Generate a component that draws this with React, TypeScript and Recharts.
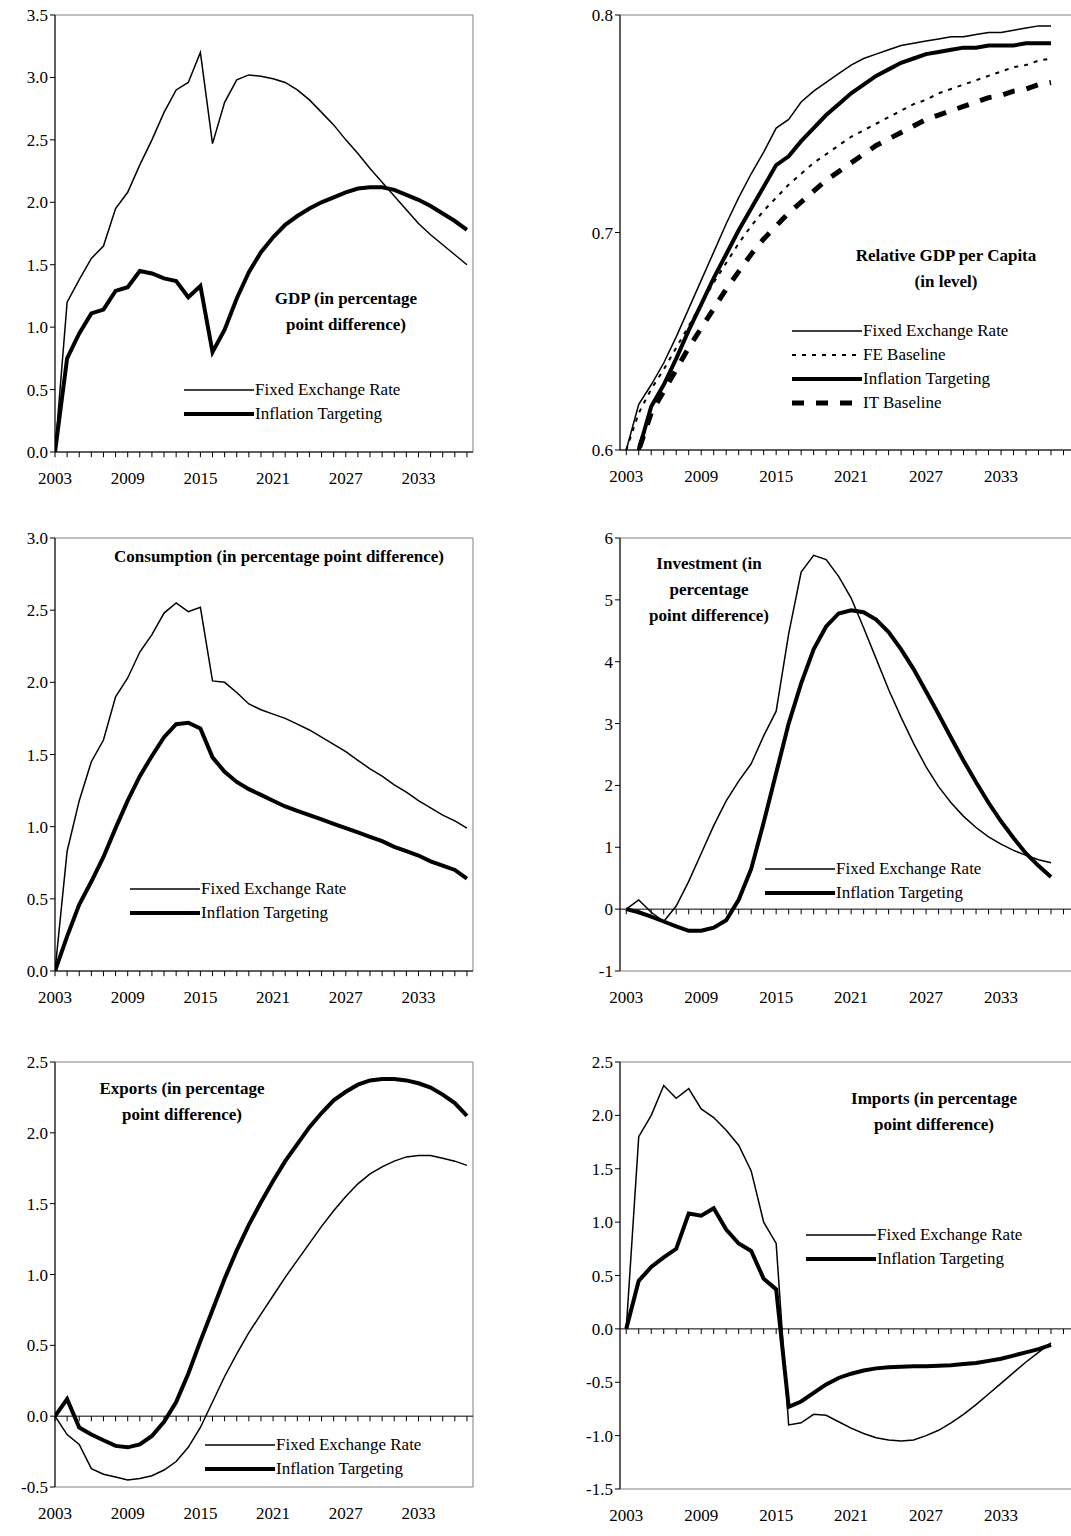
import { LineChart, Line, XAxis, YAxis, ReferenceLine, ReferenceArea } from 'recharts';

const years = Array.from({ length: 35 }, (_, i) => 2003 + i);
const yearTicks = [2003, 2009, 2015, 2021, 2027, 2033];

const gdpFE = [0, 1.2, 1.38, 1.55, 1.65, 1.95, 2.08, 2.3, 2.5, 2.72, 2.9, 2.96, 3.2, 2.47, 2.8, 2.98, 3.02, 3.01, 2.99, 2.96, 2.9, 2.82, 2.72, 2.62, 2.5, 2.39, 2.27, 2.16, 2.05, 1.94, 1.83, 1.74, 1.66, 1.58, 1.5];
const gdpIT = [0, 0.75, 0.95, 1.11, 1.14, 1.29, 1.32, 1.45, 1.43, 1.39, 1.37, 1.24, 1.33, 0.8, 0.98, 1.23, 1.44, 1.6, 1.72, 1.82, 1.89, 1.95, 2.0, 2.04, 2.08, 2.11, 2.12, 2.12, 2.1, 2.06, 2.02, 1.97, 1.91, 1.85, 1.78];

const relFE = [0.6, 0.621, 0.63, 0.64, 0.652, 0.665, 0.678, 0.691, 0.704, 0.716, 0.727, 0.737, 0.748, 0.752, 0.76, 0.765, 0.769, 0.773, 0.777, 0.78, 0.782, 0.784, 0.786, 0.787, 0.788, 0.789, 0.79, 0.79, 0.791, 0.792, 0.792, 0.793, 0.794, 0.795, 0.795];
const relFEBase = [0.6, 0.617, 0.628, 0.637, 0.647, 0.657, 0.667, 0.677, 0.686, 0.695, 0.703, 0.71, 0.716, 0.722, 0.727, 0.732, 0.736, 0.74, 0.744, 0.747, 0.75, 0.753, 0.756, 0.759, 0.761, 0.764, 0.766, 0.768, 0.77, 0.772, 0.774, 0.776, 0.777, 0.779, 0.78];
const relIT = [0.58, 0.6, 0.62, 0.63, 0.642, 0.655, 0.667, 0.679, 0.69, 0.701, 0.711, 0.721, 0.731, 0.735, 0.742, 0.748, 0.754, 0.759, 0.764, 0.768, 0.772, 0.775, 0.778, 0.78, 0.782, 0.783, 0.784, 0.785, 0.785, 0.786, 0.786, 0.786, 0.787, 0.787, 0.787];
const relITBase = [0.58, 0.6, 0.617, 0.627, 0.637, 0.647, 0.656, 0.665, 0.674, 0.682, 0.69, 0.697, 0.703, 0.709, 0.714, 0.719, 0.724, 0.728, 0.732, 0.736, 0.74, 0.743, 0.746, 0.749, 0.752, 0.754, 0.756, 0.758, 0.76, 0.762, 0.763, 0.765, 0.766, 0.768, 0.769];

const consFE = [0, 0.83, 1.18, 1.45, 1.6, 1.9, 2.03, 2.21, 2.33, 2.48, 2.55, 2.49, 2.52, 2.01, 2.0, 1.93, 1.85, 1.81, 1.78, 1.75, 1.71, 1.67, 1.62, 1.57, 1.52, 1.46, 1.4, 1.35, 1.29, 1.24, 1.18, 1.13, 1.08, 1.04, 0.99];
const consIT = [0, 0.24, 0.46, 0.62, 0.79, 0.99, 1.18, 1.35, 1.49, 1.62, 1.71, 1.72, 1.68, 1.48, 1.38, 1.31, 1.26, 1.22, 1.18, 1.14, 1.11, 1.08, 1.05, 1.02, 0.99, 0.96, 0.93, 0.9, 0.86, 0.83, 0.8, 0.76, 0.73, 0.7, 0.64];

const invFE = [0, 0.15, -0.05, -0.2, 0.05, 0.45, 0.9, 1.35, 1.75, 2.07, 2.35, 2.8, 3.2, 4.45, 5.45, 5.72, 5.65, 5.38, 5.03, 4.55, 4.05, 3.55, 3.1, 2.68, 2.3, 1.98, 1.72, 1.5, 1.32, 1.17, 1.05, 0.95, 0.87, 0.8, 0.75];
const invIT = [0, -0.05, -0.12, -0.2, -0.28, -0.35, -0.35, -0.3, -0.18, 0.15, 0.65, 1.4, 2.2, 3.0, 3.65, 4.2, 4.57, 4.78, 4.83, 4.8, 4.68, 4.48, 4.2, 3.88, 3.52, 3.15, 2.77, 2.4, 2.05, 1.72, 1.42, 1.15, 0.9, 0.7, 0.52];

const expFE = [0, -0.13, -0.2, -0.37, -0.41, -0.43, -0.45, -0.44, -0.42, -0.38, -0.32, -0.22, -0.08, 0.1, 0.28, 0.44, 0.59, 0.72, 0.85, 0.98, 1.1, 1.22, 1.34, 1.45, 1.55, 1.64, 1.71, 1.76, 1.8, 1.83, 1.84, 1.84, 1.82, 1.8, 1.77];
const expIT = [0, 0.12, -0.08, -0.13, -0.17, -0.21, -0.22, -0.2, -0.14, -0.04, 0.1, 0.3, 0.53, 0.75, 0.97, 1.17, 1.35, 1.51, 1.66, 1.8, 1.92, 2.04, 2.14, 2.23, 2.29, 2.34, 2.37, 2.38, 2.38, 2.37, 2.35, 2.32, 2.27, 2.21, 2.12];

const impFE = [0, 1.8, 2.0, 2.28, 2.16, 2.25, 2.06, 1.98, 1.86, 1.72, 1.48, 1.0, 0.8, -0.9, -0.88, -0.8, -0.81, -0.87, -0.93, -0.98, -1.02, -1.04, -1.05, -1.04, -1.0, -0.95, -0.88, -0.8, -0.71, -0.61, -0.51, -0.41, -0.31, -0.22, -0.13];
const impIT = [0, 0.45, 0.58, 0.67, 0.75, 1.08, 1.06, 1.13, 0.93, 0.8, 0.73, 0.47, 0.37, -0.73, -0.68, -0.6, -0.52, -0.46, -0.42, -0.39, -0.37, -0.36, -0.355, -0.35, -0.35, -0.345, -0.34, -0.33, -0.32, -0.3, -0.28, -0.25, -0.22, -0.19, -0.15];

const font = '"Liberation Serif", "DejaVu Serif", serif';

type Series = { name: string; values: number[]; width: number; dash?: string };

function Panel(props: {
  left: number; top: number; plotW: number; plotH: number; xDomain: [number, number];
  yDomain: [number, number]; yTicks: number[]; fmt: (v: number) => string; base: number;
  series: Series[]; title: string[]; titlePos: { x: number; y: number }; legendPos: { x: number; y: number };
}) {
  const { left, top, plotW, plotH, xDomain, yDomain, yTicks, fmt, base, series } = props;
  const data = years.map((year, i) => {
    const row: Record<string, number> = { year };
    series.forEach((s) => (row[s.name] = s.values[i]));
    return row;
  });
  const yAxisW = 50;
  const mLeft = left - yAxisW;
  const tickLen = (yDomain[1] - yDomain[0]) * 0.012;
  const tickYears = Array.from({ length: Math.floor(xDomain[1] - 2003) + 1 }, (_, i) => 2003 + i);
  const tickStyle = { fill: '#000', fontSize: 17, fontFamily: font };
  return (
    <div style={{ position: 'absolute', left: 0, top: 0 }}>
      <LineChart width={mLeft + yAxisW + plotW + 2} height={top + plotH + 40} data={data}
        margin={{ left: mLeft, top, right: 2, bottom: 10 }} style={{ fontFamily: font }}>
        <ReferenceArea x1={xDomain[0]} x2={xDomain[1]} y1={yDomain[0]} y2={yDomain[1]}
          fill="none" stroke="#808080" strokeWidth={1} ifOverflow="visible" />
        <XAxis dataKey="year" type="number" domain={xDomain} ticks={yearTicks} allowDataOverflow
          axisLine={false} tickLine={false} tick={tickStyle} tickMargin={14} height={30} />
        <YAxis domain={yDomain} ticks={yTicks} allowDataOverflow width={yAxisW} tickFormatter={fmt}
          axisLine={{ stroke: '#000' }} tickLine={{ stroke: '#000' }} tickSize={5} tick={tickStyle} />
        <ReferenceLine y={base} stroke="#000" ifOverflow="visible" />
        {tickYears.map((y) => (
          <ReferenceLine key={y} segment={[{ x: y, y: base }, { x: y, y: base - tickLen }]}
            stroke="#000" ifOverflow="visible" />
        ))}
        {series.map((s) => (
          <Line key={s.name} dataKey={s.name} stroke="#000" strokeWidth={s.width}
            strokeDasharray={s.dash} dot={false} isAnimationActive={false} />
        ))}
      </LineChart>
      <div style={{ position: 'absolute', left: props.titlePos.x, top: props.titlePos.y, fontFamily: font,
        fontWeight: 'bold', fontSize: 17, textAlign: 'center', lineHeight: '26px', whiteSpace: 'nowrap',
        transform: 'translateX(-50%)' }}>
        {props.title.map((t) => <div key={t}>{t}</div>)}
      </div>
      <div style={{ position: 'absolute', left: props.legendPos.x, top: props.legendPos.y, fontFamily: font, fontSize: 17 }}>
        {series.map((s) => (
          <div key={s.name} style={{ display: 'flex', alignItems: 'center', height: 24 }}>
            <svg width={70} height={10}>
              <line x1={0} y1={5} x2={70} y2={5} stroke="#000" strokeWidth={s.width} strokeDasharray={s.dash} />
            </svg>
            <span style={{ marginLeft: 1 }}>{s.name}</span>
          </div>
        ))}
      </div>
    </div>
  );
}

const f1 = (v: number) => v.toFixed(1);
const f0 = (v: number) => String(v);
const fe = (v: number[]): Series => ({ name: 'Fixed Exchange Rate', values: v, width: 1.5 });
const it = (v: number[]): Series => ({ name: 'Inflation Targeting', values: v, width: 4 });

export default function App() {
  const lx: [number, number] = [2003, 2037.5];
  const rx: [number, number] = [2002.5, 2039];
  return (
    <div style={{ position: 'absolute', left: 0, top: 0, width: 1071, height: 1536, overflow: 'hidden', background: '#fff' }}>
      <Panel left={55} top={15} plotW={418} plotH={437} xDomain={lx} yDomain={[0, 3.5]}
        yTicks={[0, 0.5, 1, 1.5, 2, 2.5, 3, 3.5]} fmt={f1} base={0} series={[fe(gdpFE), it(gdpIT)]}
        title={['GDP (in percentage', 'point difference)']} titlePos={{ x: 346, y: 286 }} legendPos={{ x: 184, y: 378 }} />
      <Panel left={620} top={15} plotW={456} plotH={435} xDomain={rx} yDomain={[0.6, 0.8]}
        yTicks={[0.6, 0.7, 0.8]} fmt={f1} base={0.6}
        series={[fe(relFE), { name: 'FE Baseline', values: relFEBase, width: 2, dash: '4 6' },
          it(relIT), { name: 'IT Baseline', values: relITBase, width: 5, dash: '12 12' }]}
        title={['Relative GDP per Capita', '(in level)']} titlePos={{ x: 946, y: 243 }} legendPos={{ x: 792, y: 319 }} />
      <Panel left={55} top={538} plotW={418} plotH={433} xDomain={lx} yDomain={[0, 3]}
        yTicks={[0, 0.5, 1, 1.5, 2, 2.5, 3]} fmt={f1} base={0} series={[fe(consFE), it(consIT)]}
        title={['Consumption (in percentage point difference)']} titlePos={{ x: 279, y: 544 }} legendPos={{ x: 130, y: 877 }} />
      <Panel left={620} top={538} plotW={456} plotH={433} xDomain={rx} yDomain={[-1, 6]}
        yTicks={[-1, 0, 1, 2, 3, 4, 5, 6]} fmt={f0} base={0} series={[fe(invFE), it(invIT)]}
        title={['Investment (in', 'percentage', 'point difference)']} titlePos={{ x: 709, y: 551 }} legendPos={{ x: 765, y: 857 }} />
      <Panel left={55} top={1062} plotW={418} plotH={425} xDomain={lx} yDomain={[-0.5, 2.5]}
        yTicks={[-0.5, 0, 0.5, 1, 1.5, 2, 2.5]} fmt={f1} base={0} series={[fe(expFE), it(expIT)]}
        title={['Exports (in percentage', 'point difference)']} titlePos={{ x: 182, y: 1076 }} legendPos={{ x: 205, y: 1433 }} />
      <Panel left={620} top={1062} plotW={456} plotH={427} xDomain={rx} yDomain={[-1.5, 2.5]}
        yTicks={[-1.5, -1, -0.5, 0, 0.5, 1, 1.5, 2, 2.5]} fmt={f1} base={0} series={[fe(impFE), it(impIT)]}
        title={['Imports (in percentage', 'point difference)']} titlePos={{ x: 934, y: 1086 }} legendPos={{ x: 806, y: 1223 }} />
    </div>
  );
}
